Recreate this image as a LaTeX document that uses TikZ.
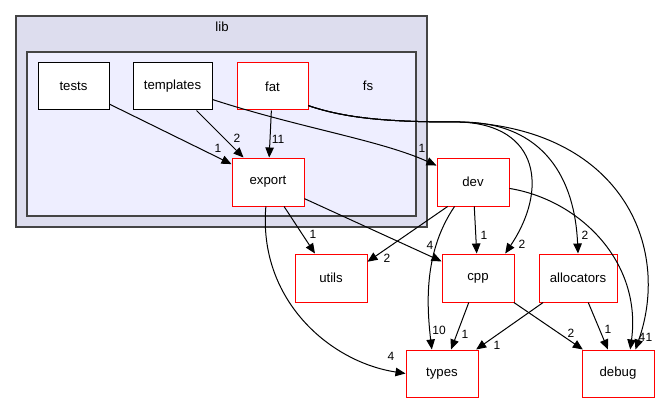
\documentclass[tikz,border=0pt]{standalone}
\usepackage{fontspec}
\setmainfont{Liberation Sans}
\usepackage{tikz}
\usetikzlibrary{arrows.meta}
\definecolor{LibFill}{HTML}{DDDDEE}
\definecolor{FsFill}{HTML}{EEEEFF}
\definecolor{ClusterLine}{HTML}{444444}
\begin{document}
\begin{tikzpicture}[x=1pt,y=-1pt,
  cluster/.style={draw=ClusterLine,line width=1.4pt,inner sep=0pt},
  dirbox/.style={draw=red,fill=white,line width=1pt,inner sep=0pt,
    minimum width=72pt,minimum height=48pt,
    font=\fontsize{13.2}{15}\selectfont},
  plainbox/.style={dirbox,draw=black},
  lbl/.style={font=\fontsize{12}{13}\selectfont,inner sep=0pt},
  dep/.style={-{Triangle[length=10pt,width=8.5pt]},line width=1pt},
]
\useasboundingbox (0,0) rectangle (662,404);
% —— clusters ——
\node[cluster,fill=LibFill,minimum width=411pt,minimum height=211pt] (lib) at (221.5,121.5) {};
\node[font=\fontsize{13.2}{15}\selectfont] (libname) at (222,27) {lib};
\node[cluster,fill=FsFill,minimum width=389pt,minimum height=164pt] (fs) at (221.5,134) {};
\node[font=\fontsize{13.2}{15}\selectfont] (fsname) at (368,86) {fs};

% —— directories ——
\node[plainbox,minimum width=71pt,minimum height=47pt] (tests) at (73.5,86.5) {tests};
\node[plainbox,minimum width=79pt,minimum height=47pt] (templates) at (172.5,86.5) {templates};
\node[dirbox,minimum width=71pt,minimum height=47pt] (fat) at (272.5,86.5) {fat};
\node[dirbox] (export) at (268,182) {export};
\node[dirbox] (dev) at (473,182) {dev};
\node[dirbox] (utils) at (331,278) {utils};
\node[dirbox] (cpp) at (478,278) {cpp};
\node[dirbox,minimum width=78pt] (allocators) at (578,278) {allocators};
\node[dirbox,minimum height=47pt] (types) at (442,373.5) {types};
\node[dirbox,minimum height=47pt] (debug) at (618,373.5) {debug};

% —— straight dependencies ——
\foreach \s/\t in {tests/export,templates/export,fat/export,export/utils,
  export/cpp,dev/cpp,cpp/types,cpp/debug,allocators/types,allocators/debug}
  \draw[dep] (\s)--(\t);
\draw[dep] (dev.224)--(utils.24);

% —— curved dependencies ——
\draw[dep] (templates) .. controls (300,128) and (380,140) .. (dev);
\draw[dep] (fat.-28) .. controls (350,120) and (400,122) .. (460,122)
  .. controls (540,125) and (548,190) .. (cpp.42);
\draw[dep] (fat.-28) .. controls (350,120) and (400,122) .. (460,122)
  .. controls (545,122) and (575,180) .. (allocators.north);
\draw[dep] (fat.-28) .. controls (350,120) and (400,122) .. (460,122)
  .. controls (620,128) and (672,245) .. (debug.54);
\draw[dep] (dev.-10) .. controls (580,200) and (642,262) .. (debug.63);
\draw[dep] (dev.233) .. controls (425,250) and (426,300) .. (types.113);
\draw[dep] (export.265) .. controls (258,300) and (330,362) .. (types.west);

% —— counts ——
\foreach \n/\x/\y/\t in {ta/218/148/1,tpa/237/138/2,fa/278/139/11,tpd/422/148/1,
  eu/313/234/1,du/387/258/2,ec/430/245/4,dc/484/235/1,fc/522/244/2,fal/585/235/2,
  dt/439/330/10,ct/465/334/1,alt/497/345/1,cd/571/333/2,ald/608/329/1,
  dd/642/337/4,fd/649/337/1,et/391/356/4}
  \node[lbl] (\n) at (\x,\y) {\t};
\end{tikzpicture}
\end{document}
